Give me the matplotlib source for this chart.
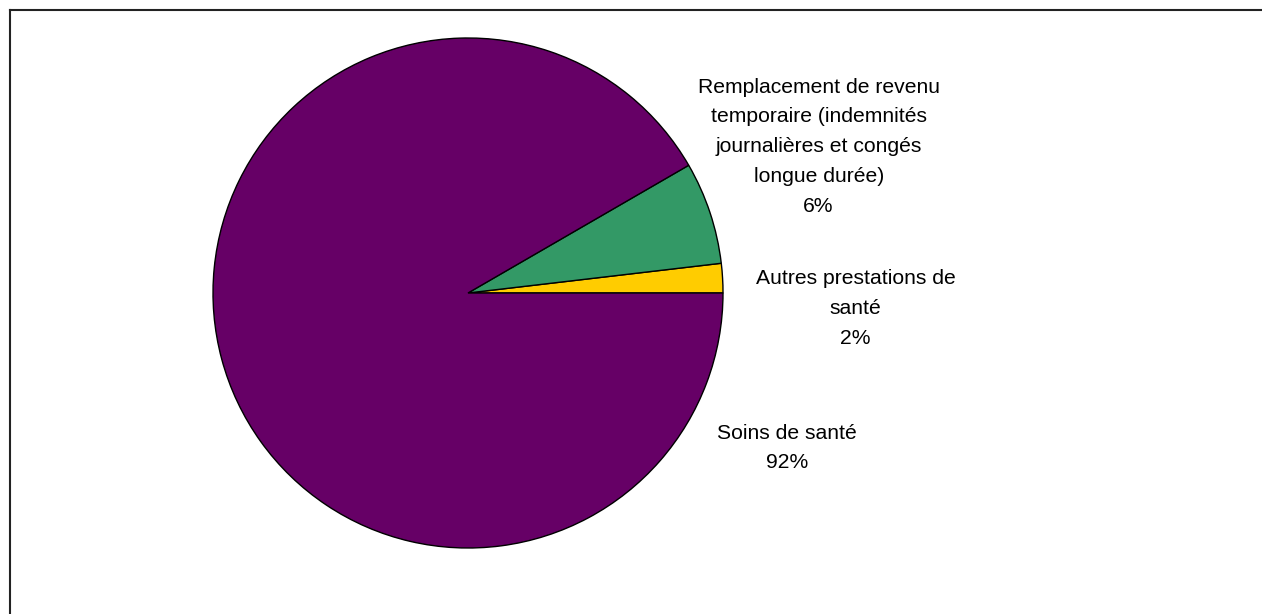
import matplotlib.pyplot as plt
from matplotlib.lines import Line2D

# Répartition des prestations (sens antihoraire à partir de 0°)
categories = [
    "Autres prestations de\nsanté",
    "Remplacement de revenu\ntemporaire (indemnités\njournalières et congés\nlongue durée)",
    "Soins de santé",
]
values = [1.86, 6.49, 91.65]
colors = ["#FFCC00", "#339966", "#660066"]
# label anchor positions in pie units (radius = 1)
label_pos = [(1.52, -0.06), (1.375, 0.574), (1.25, -0.608)]

W, H = 1262, 614
fig = plt.figure(figsize=(W / 100, H / 100), dpi=100)
plt.rcParams["font.family"] = ["Liberation Sans", "DejaVu Sans"]

cx, cy, r = 468, 293, 255
ax = fig.add_axes([(cx - r) / W, (H - cy - r) / H, 2 * r / W, 2 * r / H])
ax.pie(values, colors=colors, startangle=0, counterclock=True, radius=1,
       wedgeprops=dict(edgecolor="black", linewidth=1.0))
ax.set_xlim(-1, 1)
ax.set_ylim(-1, 1)
ax.set_aspect("equal")
ax.axis("off")

for cat, val, (x, y) in zip(categories, values, label_pos):
    ax.text(x, y, f"{cat}\n{val:.0f}%", ha="center", va="center",
            fontsize=15.2, linespacing=1.72, color="black")

# chart-area border (top and left visible)
fig.add_artist(Line2D([9.5 / W, 1.0], [1 - 9.5 / H, 1 - 9.5 / H],
                      transform=fig.transFigure, color="#222222", lw=1.5))
fig.add_artist(Line2D([9.5 / W, 9.5 / W], [0.0, 1 - 9.5 / H],
                      transform=fig.transFigure, color="#222222", lw=1.5))

fig.savefig("out.png", dpi=100)
